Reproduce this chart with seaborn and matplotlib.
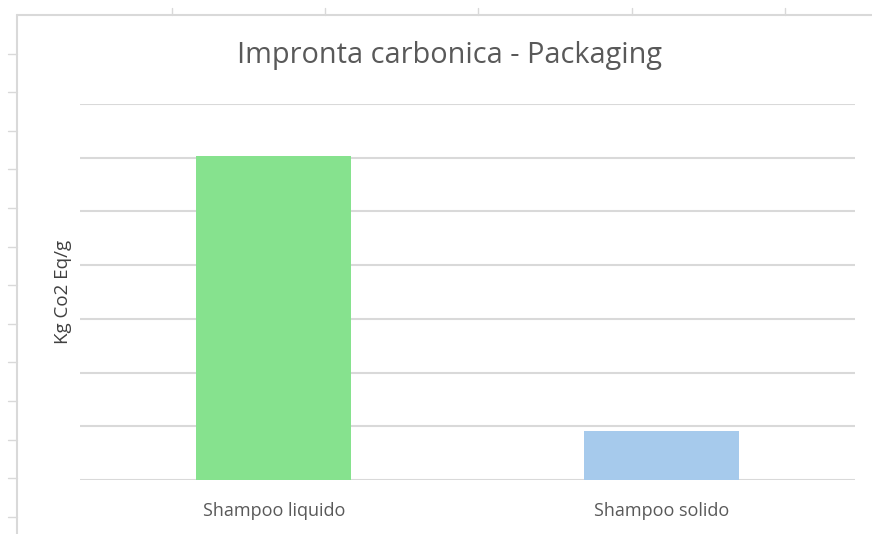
import matplotlib
matplotlib.use("Agg")
import matplotlib.pyplot as plt
import seaborn as sns
import pandas as pd
from matplotlib.lines import Line2D

# dati (unità della griglia)
categorie = ["Shampoo liquido", "Shampoo solido"]
valori = [6.03, 0.91]
colori = ["#86E28E", "#A6CAEC"]
y_ticks = [0, 1, 2, 3, 4, 5, 6, 7]

sns.set_theme(style="white")
plt.rcParams['font.family'] = ['Open Sans', 'DejaVu Sans']

df = pd.DataFrame({"categoria": categorie, "valore": valori})

fig = plt.figure(figsize=(8.72, 5.34), dpi=100)
ax = fig.add_axes([80/872, 1 - 480/534, 775/872, 376/534])

sns.barplot(data=df, x="categoria", y="valore", hue="categoria",
            palette=colori, width=0.4, saturation=1, legend=False,
            linewidth=0, ax=ax, zorder=3)

ax.set_xlim(-0.5, 1.5)
ax.set_ylim(0, 7)
ax.set_yticks(y_ticks)
ax.yaxis.grid(True, color="#d9d9d9", linewidth=1.5, zorder=0)
ax.set_yticklabels([])
ax.tick_params(axis="both", length=0)
ax.tick_params(axis="x", labelsize=13, labelcolor="#595959", pad=16)
for s in ax.spines.values():
    s.set_visible(False)

ax.set_xlabel("")
ax.set_ylabel("Kg Co2 Eq/g", fontsize=13.5, color="#404040", labelpad=2)
fig.text(449/872, 1 - 56/534, "Impronta carbonica - Packaging",
         ha="center", va="center", fontsize=20.8, color="#595959")

# bordo del foglio di calcolo sullo sfondo
grigio = "#d9d9d9"
W, H = 872, 534
fig.add_artist(Line2D([17/W, 1], [1 - 15/H, 1 - 15/H], color=grigio, lw=1.5, transform=fig.transFigure))
fig.add_artist(Line2D([17/W, 17/W], [0, 1 - 15/H], color=grigio, lw=1.5, transform=fig.transFigure))
for xp in [172, 325, 478, 632, 785]:
    fig.add_artist(Line2D([xp/W, xp/W], [1 - 15/H, 1 - 8/H], color=grigio, lw=1, transform=fig.transFigure))
yp = 15 + 38.6
while yp < H:
    fig.add_artist(Line2D([8/W, 17/W], [1 - yp/H, 1 - yp/H], color=grigio, lw=1, transform=fig.transFigure))
    yp += 38.6

fig.savefig("out.png", dpi=100)
